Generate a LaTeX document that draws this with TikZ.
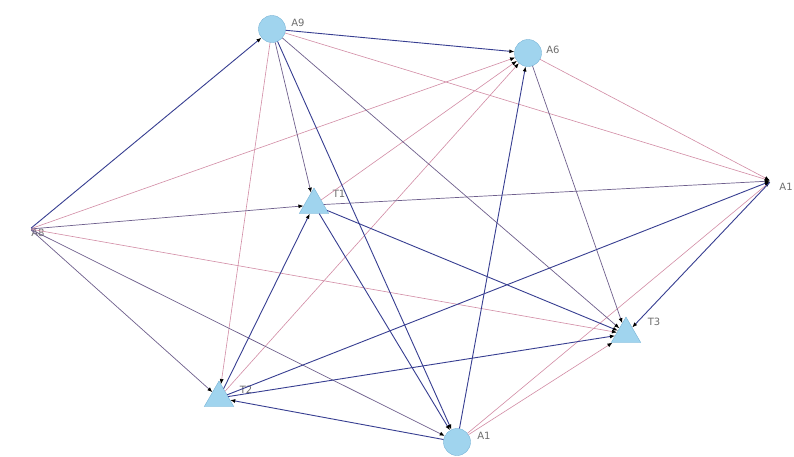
\documentclass[tikz,border=0pt]{standalone}
\usepackage{fontspec}
\setmainfont{DejaVu Sans}
\usetikzlibrary{shapes.geometric,arrows.meta}
\definecolor{nodefill}{RGB}{160,212,238}
\definecolor{nodedraw}{RGB}{120,180,215}
\definecolor{edgeblue}{RGB}{55,62,145}
\definecolor{edgepink}{RGB}{210,140,165}
\definecolor{edgegrey}{RGB}{110,95,140}
\definecolor{labelgrey}{RGB}{110,110,110}
\tikzset{
  circnode/.style={circle,fill=nodefill,draw=nodedraw,line width=0.4pt,minimum size=27pt,inner sep=0pt},
  trinode/.style={regular polygon,regular polygon sides=3,fill=nodefill,draw=nodedraw,line width=0.4pt,minimum size=34pt,inner sep=0pt},
  hidnode/.style={inner sep=0pt,minimum size=2pt},
  lbl/.style={text=labelgrey,font=\fontsize{10}{11}\selectfont,inner sep=0pt},
  tip/.style={-{Latex[length=5pt,width=4pt,color=black]}},
  blueedge/.style={tip,draw=edgeblue,line width=0.9pt},
  pinkedge/.style={tip,draw=edgepink,line width=0.6pt},
  greyedge/.style={tip,draw=edgegrey,line width=0.7pt}
}
\begin{document}
\begin{tikzpicture}[x=1pt,y=-1pt]
\useasboundingbox (0,0) rectangle (794,456);
\fill[white] (0,0) rectangle (794,456);
% nodes
\node[circnode] (A9) at (272,29) {};
\node[circnode] (A6) at (528,53) {};
\node[hidnode] (A1r) at (771,181) {};
\node[hidnode] (A8) at (30,229) {};
\node[trinode] (T1) at (314,205) {};
\node[trinode] (T3) at (626,334) {};
\node[trinode] (T2) at (219,398) {};
\node[circnode] (A1b) at (457,442) {};
% labels
\node[lbl] (lA9) at (298,23) {A9};
\node[lbl] (lA6) at (553,50) {A6};
\node[lbl] (lA1r) at (786,187) {A1};
\node[lbl] (lA8) at (38,233) {A8};
\node[lbl] (lT1) at (339,194) {T1};
\node[lbl] (lT3) at (654,322) {T3};
\node[lbl] (lT2) at (246,390) {T2};
\node[lbl] (lA1b) at (484,436) {A1};
% edges (pink first, then grey, then blue on top)
\draw[pinkedge] (A8) -- (A6);
\draw[pinkedge] (A8) -- (T3);
\draw[pinkedge] (A9) -- (A1r);
\draw[pinkedge] (A9) -- (T2);
\draw[pinkedge] (A6) -- (A1r);
\draw[pinkedge] (T2) -- (A6);
\draw[pinkedge] (T1) -- (A6);
\draw[pinkedge] (A1b) -- (A1r);
\draw[pinkedge] (A1b) -- (T3);
\draw[greyedge] (A8) -- (T1);
\draw[greyedge] (A8) -- (A1b);
\draw[greyedge] (A8) -- (T2);
\draw[greyedge] (A9) -- (T3);
\draw[greyedge] (A9) -- (T1);
\draw[greyedge] (A6) -- (T3);
\draw[greyedge] (T1) -- (A1r);
\draw[blueedge] (A8) -- (A9);
\draw[blueedge] (A9) -- (A6);
\draw[blueedge] (A9) -- (A1b);
\draw[blueedge] (A1b) -- (A6);
\draw[blueedge] (T1) -- (T3);
\draw[blueedge] (T1) -- (A1b);
\draw[blueedge] (T2) -- (T1);
\draw[blueedge] (T2) -- (A1r);
\draw[blueedge] (T2) -- (T3);
\draw[blueedge] (A1b) -- (T2);
\draw[blueedge] (A1r) -- (T3);
\end{tikzpicture}
\end{document}
